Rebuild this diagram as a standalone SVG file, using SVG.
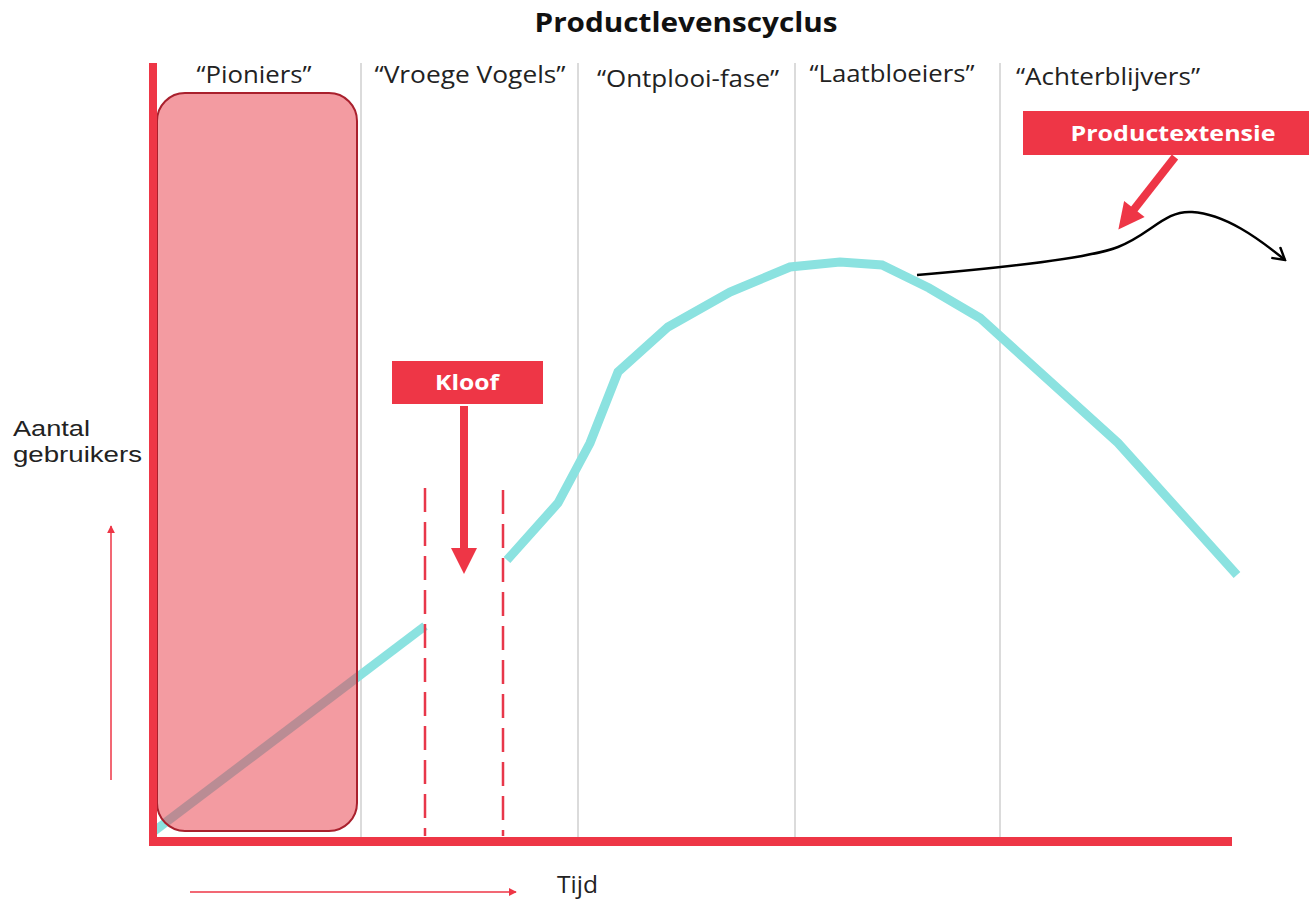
<svg xmlns="http://www.w3.org/2000/svg" width="1316" height="900" viewBox="0 0 1316 900">
  <style>
    .lbl { font-family: "Open Sans", "Liberation Sans", sans-serif; font-size: 23px; fill: #222; }
    .ylbl { font-family: "Liberation Sans", "Open Sans", sans-serif; font-size: 22px; fill: #222; }
    .title { font-family: "Open Sans", "Liberation Sans", sans-serif; font-size: 26px; font-weight: 700; fill: #111; }
    .btxt { font-family: "Open Sans", "Liberation Sans", sans-serif; font-size: 22px; font-weight: 700; fill: #fff; }
    .sep { stroke: #cfcfcf; stroke-width: 1.5; }
    .dash { stroke: #E8374A; stroke-width: 2.5; stroke-dasharray: 24 10; fill: none; }
    .curve { fill: none; stroke: #8BE2E0; stroke-width: 9; stroke-linejoin: miter; }
    .red { fill: #EE3646; }
    .thin { stroke: #EE3646; stroke-width: 1.5; fill: none; }
  </style>
  <defs>
    <marker id="tri" viewBox="0 0 10 10" refX="9" refY="5" markerWidth="8" markerHeight="8" markerUnits="userSpaceOnUse" orient="auto">
      <path d="M0,0 L10,5 L0,10 z" fill="#EE3646"/>
    </marker>
    <marker id="open" viewBox="0 0 16 16" refX="14" refY="8" markerWidth="16" markerHeight="16" markerUnits="userSpaceOnUse" orient="auto">
      <path d="M2,1 L14,8 L2,15" fill="none" stroke="#000" stroke-width="2.4"/>
    </marker>
    <clipPath id="boxclip">
      <rect x="157" y="93" width="200" height="738" rx="28"/>
    </clipPath>
  </defs>
  <rect width="1316" height="900" fill="#fff"/>

  <text id="title" class="title" x="686" y="32" text-anchor="middle" textLength="303" lengthAdjust="spacingAndGlyphs">Productlevenscyclus</text>

  <g id="separators">
    <line class="sep" x1="361" y1="63" x2="361" y2="837"/>
    <line class="sep" x1="578" y1="63" x2="578" y2="837"/>
    <line class="sep" x1="795" y1="63" x2="795" y2="837"/>
    <line class="sep" x1="1000" y1="63" x2="1000" y2="837"/>
  </g>

  <g id="phase-labels">
    <text class="lbl" x="254" y="83" text-anchor="middle" textLength="115" lengthAdjust="spacingAndGlyphs">“Pioniers”</text>
    <text class="lbl" x="470" y="83" text-anchor="middle" textLength="191" lengthAdjust="spacingAndGlyphs">“Vroege Vogels”</text>
    <text class="lbl" x="688" y="87" text-anchor="middle" textLength="182" lengthAdjust="spacingAndGlyphs">“Ontplooi-fase”</text>
    <text class="lbl" x="892" y="82" text-anchor="middle" textLength="165" lengthAdjust="spacingAndGlyphs">“Laatbloeiers”</text>
    <text class="lbl" x="1108" y="85" text-anchor="middle" textLength="184" lengthAdjust="spacingAndGlyphs">“Achterblijvers”</text>
  </g>

  <g id="curve">
    <polyline class="curve" points="153,832 425,626"/>
    <polyline class="curve" points="507,560 558,503 590,443 618,372 668,327 730,292 790,267 840,262 882,265 929,288 980,318 1118,443 1237,575"/>
  </g>

  <g id="pioniers-box">
    <rect x="157" y="93" width="200" height="738" rx="28" fill="#F39BA1"/>
    <polyline points="153,832 425,626" fill="none" stroke="#BA8C94" stroke-width="9" clip-path="url(#boxclip)"/>
    <rect x="157" y="93" width="200" height="738" rx="28" fill="none" stroke="#A9202D" stroke-width="2"/>
  </g>

  <g id="axes">
    <rect class="red" x="149" y="63" width="8" height="783"/>
    <rect class="red" x="149" y="837" width="1083" height="9"/>
  </g>

  <g id="dashes">
    <line class="dash" x1="425" y1="488" x2="425" y2="836"/>
    <line class="dash" x1="503" y1="490" x2="503" y2="836"/>
  </g>

  <g id="kloof">
    <rect class="red" x="392" y="361" width="151" height="43"/>
    <text class="btxt" x="467" y="390" text-anchor="middle" textLength="64" lengthAdjust="spacingAndGlyphs">Kloof</text>
    <rect class="red" x="460" y="406" width="8" height="144"/>
    <polygon class="red" points="451,548 477,548 464,574"/>
  </g>

  <g id="productextensie">
    <rect class="red" x="1023" y="111" width="286" height="44"/>
    <text class="btxt" x="1173" y="141" text-anchor="middle" textLength="205" lengthAdjust="spacingAndGlyphs">Productextensie</text>
    <g transform="translate(1175,157) rotate(38)">
      <rect class="red" x="-4" y="0" width="8" height="68"/>
      <polygon class="red" points="-13,66 13,66 0,92"/>
    </g>
  </g>

  <g id="connectors">
    <path d="M917,275 C1000,268 1090,258 1118,247 C1150,235 1165,210 1192,212 C1225,214 1258,238 1285,260" fill="none" stroke="#000" stroke-width="2.5" marker-end="url(#open)"/>
    <line class="thin" x1="111" y1="780" x2="111" y2="526" marker-end="url(#tri)"/>
    <line class="thin" x1="190" y1="892" x2="516" y2="892" marker-end="url(#tri)"/>
  </g>

  <g id="axis-labels">
    <text class="ylbl" x="13" y="436" textLength="77" lengthAdjust="spacingAndGlyphs">Aantal</text>
    <text class="ylbl" x="13" y="462" textLength="129" lengthAdjust="spacingAndGlyphs">gebruikers</text>
    <text class="lbl" x="557" y="893" textLength="41" lengthAdjust="spacingAndGlyphs">Tijd</text>
  </g>
</svg>
